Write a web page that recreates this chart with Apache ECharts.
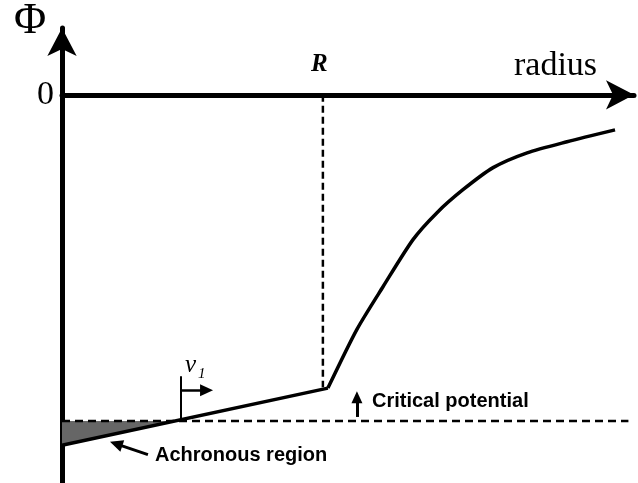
<!DOCTYPE html>
<html>
<head>
<meta charset="utf-8">
<script src="https://cdn.jsdelivr.net/npm/echarts@6/dist/echarts.min.js"></script>
<style>
html,body{margin:0;padding:0;background:#fff;}
#chart{width:638px;height:483px;}
</style>
</head>
<body>
<div id="chart"></div>
<script>
// ---- data (arbitrary units) ----
const radius    = [0, 95.3, 105.7, 115.1, 125.8, 134.4, 143.7, 154.5, 166.7, 181.0, 198.2];
const potential = [-130.0, -108.8, -87.0, -71.1, -53.7, -43.7, -35.2, -27.0, -21.5, -17.4, -13.0];
const R = 93.5;                 // radius R (dashed vertical)
const criticalPotential = -121; // critical potential (dashed horizontal)
const criticalEnd = 203;
const yTickValues = [0];
const yTickLabels = ['0'];

// ---- derived ----
const pts = radius.map((r, i) => [r, potential[i]]);
const inner = pts.slice(0, 2);
const outer = pts.slice(1);
// where the inner straight segment meets the critical potential
const slope = (potential[1] - potential[0]) / (radius[1] - radius[0]);
const xCross = radius[0] + (criticalPotential - potential[0]) / slope;
const shade = [[radius[0], potential[0]], [xCross, criticalPotential]];

const chart = echarts.init(document.getElementById('chart'), null, {renderer: 'canvas'});
const serif = 'Liberation Serif, Times New Roman, serif';
const sans = 'Liberation Sans, Arial, sans-serif';

const option = {
  animation: false,
  backgroundColor: '#fff',
  grid: {left: 62, right: 4, top: 28, bottom: -1, containLabel: false},
  xAxis: {
    type: 'value', min: 0, max: 205,
    axisLine: {show: true, onZero: true, symbol: ['none', 'arrow'], symbolSize: [22, 28],
      lineStyle: {color: '#000', width: 5}},
    axisTick: {show: false}, axisLabel: {show: false}, splitLine: {show: false}
  },
  yAxis: {
    type: 'value', min: -144, max: 24.8,
    axisLine: {show: true, symbol: ['none', 'arrow'], symbolSize: [22, 28],
      lineStyle: {color: '#000', width: 5}},
    axisTick: {show: false}, splitLine: {show: false},
    axisLabel: {show: true, customValues: yTickValues,
      formatter: v => yTickLabels[yTickValues.indexOf(v)] || '',
      fontFamily: serif, fontSize: 34, color: '#000', margin: 8, padding: [0, 0, 12, 0]}
  },
  series: [
    {
      name: 'shade', type: 'line', data: shade, symbol: 'none', silent: true,
      lineStyle: {width: 0}, areaStyle: {color: '#666', opacity: 1, origin: criticalPotential}, z: 1
    },
    {
      name: 'critical', type: 'line', data: [[0, criticalPotential], [criticalEnd, criticalPotential]],
      symbol: 'none', clip: false, lineStyle: {color: '#000', width: 2.5, type: [8, 5]}, z: 2
    },
    {
      name: 'R', type: 'line', data: [[R, 0], [R, potential[1] + 0.3]],
      symbol: 'none', lineStyle: {color: '#000', width: 2.5, type: [7, 4]}, z: 2
    },
    {
      name: 'inner', type: 'line', data: inner, symbol: 'none',
      lineStyle: {color: '#000', width: 3.5}, z: 3
    },
    {
      name: 'outer', type: 'line', data: outer, symbol: 'none', smooth: 0.25,
      lineStyle: {color: '#000', width: 3.5, join: 'round'}, z: 3,
      markLine: {
        silent: true, animation: false, label: {show: false},
        symbol: ['none', 'triangle'],
        data: [
          // v1 marker: vertical tick
          [{coord: [42.65, -104.4], symbol: 'none', lineStyle: {width: 2}}, {coord: [42.65, -120.4], symbol: 'none'}],
          // v1 arrow
          [{coord: [42.65, -109.6], lineStyle: {width: 2.5}, symbolSize: [12, 13]}, {coord: [51.8, -109.6], symbolSize: [12, 13]}],
          // critical potential arrow
          [{coord: [105.7, -119.5], lineStyle: {width: 3}, symbolSize: [11, 12]}, {coord: [105.7, -112.2], symbolSize: [11, 12]}],
          // achronous region arrow
          [{coord: [30.8, -133.5], lineStyle: {width: 3}, symbolSize: [12, 13]}, {coord: [19.4, -129.5], symbolSize: [12, 13]}]
        ],
        lineStyle: {color: '#000', type: 'solid', width: 2},
        itemStyle: {color: '#000'}
      }
    }
  ],
  graphic: [
    {type: 'text', style: {text: 'Φ', x: 30, y: 21, font: '44px ' + serif, fill: '#000', align: 'center', verticalAlign: 'middle'}},
    {type: 'text', style: {text: 'radius', x: 514, y: 66, font: '34px ' + serif, fill: '#000', align: 'left', verticalAlign: 'middle'}},
    {type: 'text', style: {text: 'R', x: 311, y: 65, font: 'italic bold 25px ' + serif, fill: '#000', align: 'left', verticalAlign: 'middle'}},
    {type: 'text', style: {text: 'v', x: 185, y: 365, font: 'italic 25px ' + serif, fill: '#000', align: 'left', verticalAlign: 'middle'}},
    {type: 'text', style: {text: '1', x: 198, y: 374, font: 'italic 15px ' + serif, fill: '#000', align: 'left', verticalAlign: 'middle'}},
    {type: 'text', style: {text: 'Achronous region', x: 155, y: 455, font: 'bold 20px ' + sans, fill: '#000', align: 'left', verticalAlign: 'middle'}},
    {type: 'text', style: {text: 'Critical potential', x: 372, y: 401, font: 'bold 20px ' + sans, fill: '#000', align: 'left', verticalAlign: 'middle'}}
  ]
};
chart.setOption(option);
</script>
</body>
</html>
